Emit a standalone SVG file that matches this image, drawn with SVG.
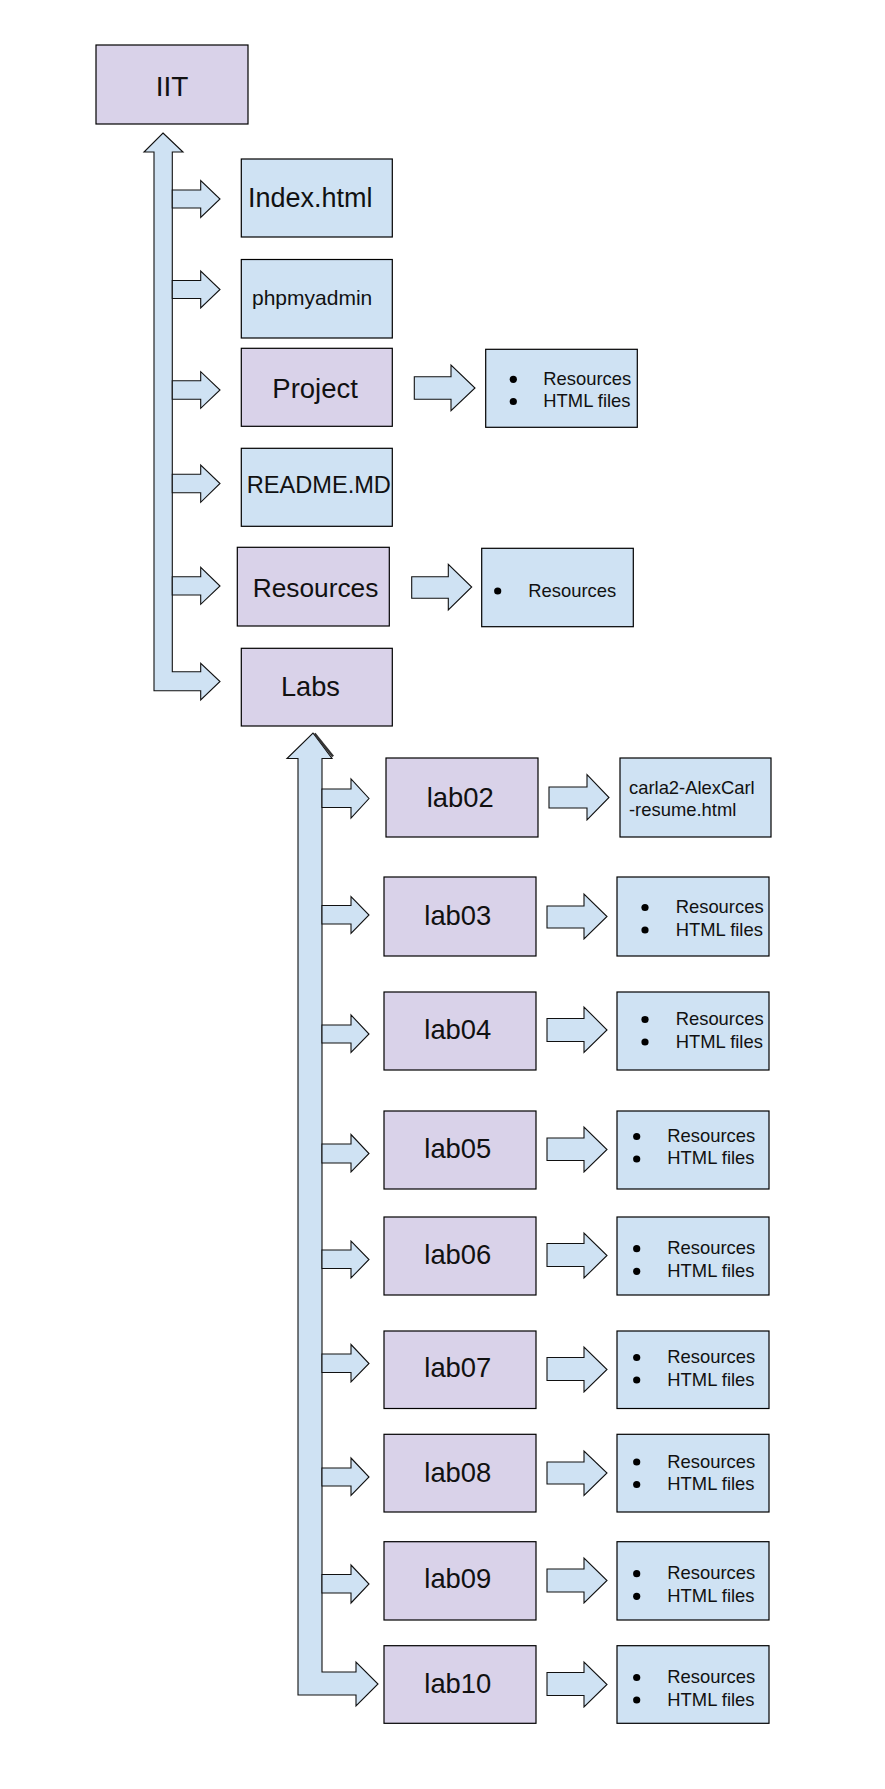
<svg xmlns="http://www.w3.org/2000/svg" width="885" height="1789" viewBox="0 0 885 1789">
<style>
.p{fill:#d9d2e9;stroke:#000;stroke-width:1.2}
.b{fill:#cfe2f3;stroke:#000;stroke-width:1.2}
.a{fill:#cfe2f3;stroke:#111;stroke-width:1.1;stroke-linejoin:miter}
text{font-family:'Liberation Sans',Arial,sans-serif;fill:#111}
.big{font-size:27.4px}
.li{font-size:18.4px}
.dot{fill:#000}
</style>
<rect width="885" height="1789" fill="#fff"/>
<g id="connectors">
<path class="a" d="M163,133 L183,152 H172.3 V671.7 H200.7 V663.3 L220,681.5 L200.7,700 V690.7 H154 V152 H144 Z"/>
<path class="a" d="M172.3,190 H200.7 V180.5 L220,199 L200.7,217.5 V208 H172.3 Z"/>
<path class="a" d="M172.3,280.5 H200.7 V271 L220,289.5 L200.7,308 V298.5 H172.3 Z"/>
<path class="a" d="M172.3,380.7 H200.7 V371.7 L220,390 L200.7,408.3 V399.3 H172.3 Z"/>
<path class="a" d="M172.3,474.3 H200.7 V465 L220,483.5 L200.7,502.3 V492.7 H172.3 Z"/>
<path class="a" d="M172.3,576.7 H200.7 V567.3 L220,586 L200.7,604.3 V595 H172.3 Z"/>
<path class="a" d="M414.3,376.7 H451 V365 L475,388 L451,410.7 V399.3 H414.3 Z"/>
<path class="a" d="M411.7,576.7 H448.3 V564.3 L471.7,587 L448.3,610 V598.3 H411.7 Z"/>
<path class="a" d="M313,733 L332,758.5 H322 V1672 H356 V1662 L378,1684 L356,1706 V1695 H298 V758.5 H287 Z"/>
<polyline points="314.5,733.5 333,756.5" fill="none" stroke="#333" stroke-width="2.5"/>
<path class="a" d="M322,789 H351 V779 L369,798.5 L351,818 V807.5 H322 Z"/>
<path class="a" d="M322,905.5 H351 V896.5 L369,915 L351,933.5 V924 H322 Z"/>
<path class="a" d="M322,1025 H351 V1015 L369,1034 L351,1052.5 V1043 H322 Z"/>
<path class="a" d="M322,1144 H351 V1134.5 L369,1153.5 L351,1172 V1163 H322 Z"/>
<path class="a" d="M322,1250 H351 V1241 L369,1259.5 L351,1278 V1268.5 H322 Z"/>
<path class="a" d="M322,1354 H351 V1344.5 L369,1363.5 L351,1382 V1372.5 H322 Z"/>
<path class="a" d="M322,1468 H351 V1458 L369,1477 L351,1495.5 V1486 H322 Z"/>
<path class="a" d="M322,1574.5 H351 V1565 L369,1584 L351,1603 V1593 H322 Z"/>
<path class="a" d="M549,787 H587 V774.5 L609,797.5 L587,820 V808 H549 Z"/>
<path class="a" d="M547,906 H584 V894 L607,916.5 L584,939 V928 H547 Z"/>
<path class="a" d="M547,1018.5 H584 V1007 L607,1030 L584,1052.5 V1041.5 H547 Z"/>
<path class="a" d="M547,1138 H584 V1127 L607,1149.5 L584,1172 V1160.5 H547 Z"/>
<path class="a" d="M547,1243.5 H584 V1233 L607,1255.5 L584,1278 V1266.5 H547 Z"/>
<path class="a" d="M547,1357.5 H584 V1347 L607,1369.5 L584,1392 V1380.5 H547 Z"/>
<path class="a" d="M547,1462 H584 V1451 L607,1473 L584,1495.5 V1484 H547 Z"/>
<path class="a" d="M547,1569 H584 V1558 L607,1580.5 L584,1603 V1592 H547 Z"/>
<path class="a" d="M547,1672.5 H584 V1662 L607,1684.5 L584,1707 V1695.5 H547 Z"/>
</g>
<g id="iit"><rect class="p" x="96" y="45" width="152" height="79"/><text x="172" y="96" font-size="28" text-anchor="middle">IIT</text></g>
<g id="index"><rect class="b" x="241.3" y="159" width="151" height="78"/><text x="248" y="206.7" font-size="27">Index.html</text></g>
<g id="phpmyadmin"><rect class="b" x="241.3" y="259.5" width="151" height="78.5"/><text x="252" y="305" font-size="21">phpmyadmin</text></g>
<g id="project"><rect class="p" x="241.3" y="348.3" width="151" height="78"/><text x="272.3" y="398.3" font-size="27.5">Project</text></g>
<g id="project-list"><rect class="b" x="485.7" y="349.3" width="151.6" height="78"/><circle class="dot" cx="513.3" cy="379.3" r="3.6"/><circle class="dot" cx="513.3" cy="401.5" r="3.6"/><text class="li" x="543.3" y="385">Resources</text><text class="li" x="543.3" y="406.7">HTML files</text></g>
<g id="readme"><rect class="b" x="241.3" y="448.3" width="151" height="78"/><text x="246.7" y="493.3" font-size="23.6">README.MD</text></g>
<g id="resources"><rect class="p" x="237.3" y="547.3" width="152" height="78.7"/><text x="252.7" y="596.7" font-size="26.3">Resources</text></g>
<g id="resources-list"><rect class="b" x="481.7" y="548.3" width="151.6" height="78.4"/><circle class="dot" cx="497.7" cy="591" r="3.6"/><text class="li" x="528.3" y="596.7">Resources</text></g>
<g id="labs"><rect class="p" x="241.3" y="648.3" width="151" height="77.7"/><text x="281" y="695.7" font-size="27.2">Labs</text></g>
<g id="lab02"><rect class="p" x="386" y="758" width="152" height="79"/><text class="big" x="426.7" y="807">lab02</text></g>
<g id="lab02-file"><rect class="b" x="620" y="758" width="151" height="79"/><text class="li" x="629" y="794">carla2-AlexCarl</text><text class="li" x="629" y="816">-resume.html</text></g>
<g id="lab03"><rect class="p" x="384" y="877" width="152" height="79"/><text class="big" x="424.3" y="925">lab03</text></g>
<g id="lab03-list"><rect class="b" x="617" y="877" width="152" height="79"/><circle class="dot" cx="645" cy="907.5" r="3.6"/><circle class="dot" cx="645" cy="930" r="3.6"/><text class="li" x="675.7" y="913.3">Resources</text><text class="li" x="675.7" y="935.7">HTML files</text></g>
<g id="lab04"><rect class="p" x="384" y="992" width="152" height="78"/><text class="big" x="424.3" y="1039">lab04</text></g>
<g id="lab04-list"><rect class="b" x="617" y="992" width="152" height="78"/><circle class="dot" cx="645" cy="1019.5" r="3.6"/><circle class="dot" cx="645" cy="1042" r="3.6"/><text class="li" x="675.7" y="1025">Resources</text><text class="li" x="675.7" y="1047.7">HTML files</text></g>
<g id="lab05"><rect class="p" x="384" y="1111" width="152" height="78"/><text class="big" x="424.3" y="1158">lab05</text></g>
<g id="lab05-list"><rect class="b" x="617" y="1111" width="152" height="78"/><circle class="dot" cx="636.7" cy="1136.5" r="3.6"/><circle class="dot" cx="636.7" cy="1159" r="3.6"/><text class="li" x="667.3" y="1142">Resources</text><text class="li" x="667.3" y="1164.3">HTML files</text></g>
<g id="lab06"><rect class="p" x="384" y="1217" width="152" height="78"/><text class="big" x="424.3" y="1264">lab06</text></g>
<g id="lab06-list"><rect class="b" x="617" y="1217" width="152" height="78"/><circle class="dot" cx="636.7" cy="1248.7" r="3.6"/><circle class="dot" cx="636.7" cy="1271.3" r="3.6"/><text class="li" x="667.3" y="1254.3">Resources</text><text class="li" x="667.3" y="1276.7">HTML files</text></g>
<g id="lab07"><rect class="p" x="384" y="1331" width="152" height="77.5"/><text class="big" x="424.3" y="1377">lab07</text></g>
<g id="lab07-list"><rect class="b" x="617" y="1331" width="152" height="77.5"/><circle class="dot" cx="636.7" cy="1357.5" r="3.6"/><circle class="dot" cx="636.7" cy="1380" r="3.6"/><text class="li" x="667.3" y="1363.3">Resources</text><text class="li" x="667.3" y="1385.7">HTML files</text></g>
<g id="lab08"><rect class="p" x="384" y="1434.3" width="152" height="77.7"/><text class="big" x="424.3" y="1482">lab08</text></g>
<g id="lab08-list"><rect class="b" x="617" y="1434.3" width="152" height="77.7"/><circle class="dot" cx="636.7" cy="1462" r="3.6"/><circle class="dot" cx="636.7" cy="1484.5" r="3.6"/><text class="li" x="667.3" y="1467.7">Resources</text><text class="li" x="667.3" y="1490">HTML files</text></g>
<g id="lab09"><rect class="p" x="384" y="1541.7" width="152" height="78.3"/><text class="big" x="424.3" y="1588">lab09</text></g>
<g id="lab09-list"><rect class="b" x="617" y="1541.7" width="152" height="78.3"/><circle class="dot" cx="636.7" cy="1573.7" r="3.6"/><circle class="dot" cx="636.7" cy="1596.3" r="3.6"/><text class="li" x="667.3" y="1579.3">Resources</text><text class="li" x="667.3" y="1601.7">HTML files</text></g>
<g id="lab10"><rect class="p" x="384" y="1645.7" width="152" height="77.6"/><text class="big" x="424.3" y="1693">lab10</text></g>
<g id="lab10-list"><rect class="b" x="617" y="1645.7" width="152" height="77.6"/><circle class="dot" cx="636.7" cy="1677.5" r="3.6"/><circle class="dot" cx="636.7" cy="1700" r="3.6"/><text class="li" x="667.3" y="1683.3">Resources</text><text class="li" x="667.3" y="1705.7">HTML files</text></g>
</svg>
